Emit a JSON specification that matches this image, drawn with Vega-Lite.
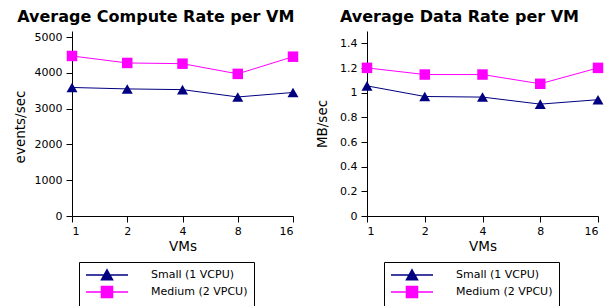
{
  "$schema": "https://vega.github.io/schema/vega-lite/v6.json",
  "background": "white",
  "padding": {"left": 13, "top": 9, "right": 5, "bottom": 5},
  "spacing": 16,
  "datasets": {
    "compute": [
      {"vms": 1, "series": "Small (1 VCPU)", "rate": 3590},
      {"vms": 2, "series": "Small (1 VCPU)", "rate": 3550},
      {"vms": 4, "series": "Small (1 VCPU)", "rate": 3530},
      {"vms": 8, "series": "Small (1 VCPU)", "rate": 3325},
      {"vms": 16, "series": "Small (1 VCPU)", "rate": 3450},
      {"vms": 1, "series": "Medium (2 VPCU)", "rate": 4470},
      {"vms": 2, "series": "Medium (2 VPCU)", "rate": 4275},
      {"vms": 4, "series": "Medium (2 VPCU)", "rate": 4255},
      {"vms": 8, "series": "Medium (2 VPCU)", "rate": 3970},
      {"vms": 16, "series": "Medium (2 VPCU)", "rate": 4450}
    ],
    "datarate": [
      {"vms": 1, "series": "Small (1 VCPU)", "rate": 1.055},
      {"vms": 2, "series": "Small (1 VCPU)", "rate": 0.969},
      {"vms": 4, "series": "Small (1 VCPU)", "rate": 0.964},
      {"vms": 8, "series": "Small (1 VCPU)", "rate": 0.907},
      {"vms": 16, "series": "Small (1 VCPU)", "rate": 0.943},
      {"vms": 1, "series": "Medium (2 VPCU)", "rate": 1.201},
      {"vms": 2, "series": "Medium (2 VPCU)", "rate": 1.147},
      {"vms": 4, "series": "Medium (2 VPCU)", "rate": 1.147},
      {"vms": 8, "series": "Medium (2 VPCU)", "rate": 1.072},
      {"vms": 16, "series": "Medium (2 VPCU)", "rate": 1.201}
    ]
  },
  "config": {
    "font": "DejaVu Sans",
    "view": {"stroke": null},
    "axis": {
      "grid": false,
      "domainColor": "black",
      "domainWidth": 1,
      "tickColor": "black",
      "tickWidth": 1,
      "tickSize": 6,
      "labelPadding": 4,
      "labelFontSize": 11,
      "labelColor": "black",
      "titleFontSize": 13.5,
      "titleFontWeight": "normal",
      "titleColor": "black"
    },
    "title": {"fontSize": 16, "fontWeight": "bold", "color": "black", "offset": 6, "frame": "bounds", "anchor": "middle"},
    "legend": {
      "orient": "none",
      "strokeColor": "black",
      "padding": 6,
      "labelFont": "DejaVu Sans",
      "labelFontSize": 11,
      "labelColor": "black",
      "labelOffset": 37,
      "symbolOffset": 15,
      "rowPadding": 0,
      "symbolSize": 144,
      "symbolOpacity": 1
    }
  },
  "resolve": {"scale": {"color": "independent", "shape": "independent", "fill": "independent", "stroke": "independent"}},
  "hconcat": [
    {
      "width": 221,
      "height": 185,
      "title": "Average Compute Rate per VM",
      "data": {"name": "compute"},
      "encoding": {
        "x": {"field": "vms", "type": "quantitative",
          "scale": {"type": "log", "base": 2, "domain": [1, 16], "nice": false},
          "axis": {"title": "VMs", "values": [1, 2, 4, 8, 16], "format": "d", "labelPadding": 3, "titlePadding": 3}},
        "y": {"field": "rate", "type": "quantitative",
          "scale": {"domain": [0, 5167.6], "nice": false},
          "axis": {"title": "events/sec", "values": [0, 1000, 2000, 3000, 4000, 5000], "format": "d", "titlePadding": 7, "titleY": 95.5}}
      },
      "layer": [
        {"mark": {"type": "point", "opacity": 0, "filled": true, "strokeWidth": 1, "size": 1},
          "encoding": {
            "fill": {"field": "series", "type": "nominal",
              "scale": {"domain": ["Small (1 VCPU)", "Medium (2 VPCU)"], "range": ["#000080", "#ff00ff"]},
              "legend": {"title": null, "orient": "none", "legendX": 7, "legendY": 231, "symbolOpacity": 1, "labelFontSize": 11, "rowPadding": 0}},
            "stroke": {"field": "series", "type": "nominal",
              "scale": {"domain": ["Small (1 VCPU)", "Medium (2 VPCU)"], "range": ["#000080", "#ff00ff"]},
              "legend": {"title": null, "orient": "none", "legendX": 7, "legendY": 231, "symbolOpacity": 1, "labelFontSize": 11, "rowPadding": 0}},
            "shape": {"field": "series", "type": "nominal",
              "scale": {"domain": ["Small (1 VCPU)", "Medium (2 VPCU)"], "range": ["M-3.5,0L3.5,0M0,-0.85L0.92,0.8L-0.92,0.8Z", "M-3.5,0L3.5,0M-0.92,-0.92L0.92,-0.92L0.92,0.92L-0.92,0.92Z"]},
              "legend": {"title": null, "orient": "none", "legendX": 7, "legendY": 231, "symbolOpacity": 1, "labelFontSize": 11, "rowPadding": 0}}
          }},
        {"mark": {"type": "line", "strokeWidth": 1},
          "encoding": {"color": {"field": "series", "type": "nominal",
            "scale": {"domain": ["Small (1 VCPU)", "Medium (2 VPCU)"], "range": ["#000080", "#ff00ff"]}, "legend": null}}},
        {"transform": [{"filter": "datum.series === 'Small (1 VCPU)'"}],
          "mark": {"type": "point", "shape": "triangle-up", "filled": true, "opacity": 1, "size": 121},
          "encoding": {"color": {"field": "series", "type": "nominal",
            "scale": {"domain": ["Small (1 VCPU)", "Medium (2 VPCU)"], "range": ["#000080", "#ff00ff"]}, "legend": null}}},
        {"transform": [{"filter": "datum.series === 'Medium (2 VPCU)'"}],
          "mark": {"type": "point", "shape": "square", "filled": true, "opacity": 1, "size": 110},
          "encoding": {"color": {"field": "series", "type": "nominal",
            "scale": {"domain": ["Small (1 VCPU)", "Medium (2 VPCU)"], "range": ["#000080", "#ff00ff"]}, "legend": null}}}
      ]
    },
    {
      "width": 231,
      "height": 185,
      "title": "Average Data Rate per VM",
      "data": {"name": "datarate"},
      "encoding": {
        "x": {"field": "vms", "type": "quantitative",
          "scale": {"type": "log", "base": 2, "domain": [1, 16], "nice": false},
          "axis": {"title": "VMs", "values": [1, 2, 4, 8, 16], "format": "d", "labelPadding": 3, "titlePadding": 3}},
        "y": {"field": "rate", "type": "quantitative",
          "scale": {"domain": [0, 1.5], "nice": false},
          "axis": {"title": "MB/sec", "values": [0, 0.2, 0.4, 0.6, 0.8, 1, 1.2, 1.4], "format": "~g", "titlePadding": 10}}
      },
      "layer": [
        {"mark": {"type": "point", "opacity": 0, "filled": true, "strokeWidth": 1, "size": 1},
          "encoding": {
            "fill": {"field": "series", "type": "nominal",
              "scale": {"domain": ["Small (1 VCPU)", "Medium (2 VPCU)"], "range": ["#000080", "#ff00ff"]},
              "legend": {"title": null, "orient": "none", "legendX": 17, "legendY": 231, "symbolOpacity": 1, "labelFontSize": 11, "rowPadding": 0}},
            "stroke": {"field": "series", "type": "nominal",
              "scale": {"domain": ["Small (1 VCPU)", "Medium (2 VPCU)"], "range": ["#000080", "#ff00ff"]},
              "legend": {"title": null, "orient": "none", "legendX": 17, "legendY": 231, "symbolOpacity": 1, "labelFontSize": 11, "rowPadding": 0}},
            "shape": {"field": "series", "type": "nominal",
              "scale": {"domain": ["Small (1 VCPU)", "Medium (2 VPCU)"], "range": ["M-3.5,0L3.5,0M0,-0.85L0.92,0.8L-0.92,0.8Z", "M-3.5,0L3.5,0M-0.92,-0.92L0.92,-0.92L0.92,0.92L-0.92,0.92Z"]},
              "legend": {"title": null, "orient": "none", "legendX": 17, "legendY": 231, "symbolOpacity": 1, "labelFontSize": 11, "rowPadding": 0}}
          }},
        {"mark": {"type": "line", "strokeWidth": 1},
          "encoding": {"color": {"field": "series", "type": "nominal",
            "scale": {"domain": ["Small (1 VCPU)", "Medium (2 VPCU)"], "range": ["#000080", "#ff00ff"]}, "legend": null}}},
        {"transform": [{"filter": "datum.series === 'Small (1 VCPU)'"}],
          "mark": {"type": "point", "shape": "triangle-up", "filled": true, "opacity": 1, "size": 121},
          "encoding": {"color": {"field": "series", "type": "nominal",
            "scale": {"domain": ["Small (1 VCPU)", "Medium (2 VPCU)"], "range": ["#000080", "#ff00ff"]}, "legend": null}}},
        {"transform": [{"filter": "datum.series === 'Medium (2 VPCU)'"}],
          "mark": {"type": "point", "shape": "square", "filled": true, "opacity": 1, "size": 110},
          "encoding": {"color": {"field": "series", "type": "nominal",
            "scale": {"domain": ["Small (1 VCPU)", "Medium (2 VPCU)"], "range": ["#000080", "#ff00ff"]}, "legend": null}}}
      ]
    }
  ]
}
